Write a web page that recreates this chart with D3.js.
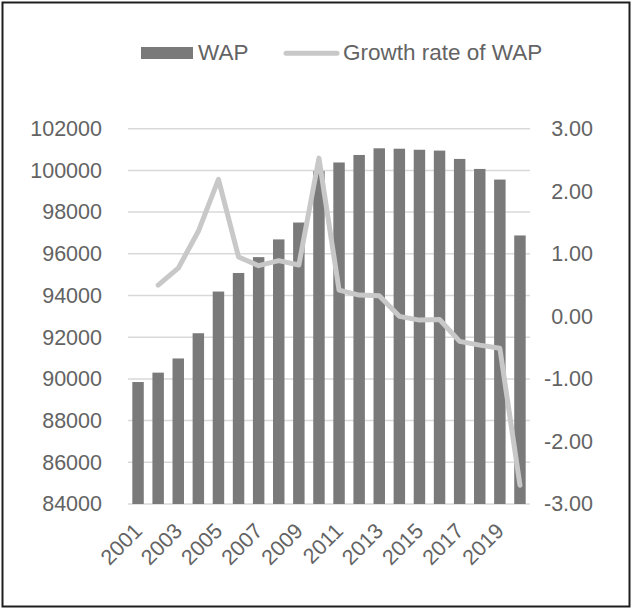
<!DOCTYPE html>
<html><head><meta charset="utf-8">
<script src="https://cdn.jsdelivr.net/npm/d3@7"></script>
<style>
html,body{margin:0;padding:0;background:#fff;}
text{font-family:"Liberation Sans",Arial,sans-serif;fill:#636363;}
</style></head>
<body><svg id="c" width="632" height="609"></svg>
<script>
const years = [2001,2002,2003,2004,2005,2006,2007,2008,2009,2010,2011,2012,2013,2014,2015,2016,2017,2018,2019,2020];
const wap = [89850,90300,90980,92190,94190,95080,95840,96690,97500,99970,100380,100740,101060,101040,100990,100950,100550,100070,99560,96880];
const growth = [null,0.50,0.77,1.36,2.19,0.95,0.81,0.89,0.82,2.53,0.42,0.34,0.33,0.00,-0.06,-0.05,-0.40,-0.46,-0.51,-2.70];
const leftTicks = [84000,86000,88000,90000,92000,94000,96000,98000,100000,102000];
const rightTicks = [-3,-2,-1,0,1,2,3];
const yearLabels = [2001,2003,2005,2007,2009,2011,2013,2015,2017,2019];

const svg = d3.select("#c");
svg.append("rect").attr("x",2.5).attr("y",2.5).attr("width",627).attr("height",604)
  .attr("fill","#fff").attr("stroke","#1e1e1e").attr("stroke-width",2);

const x0 = 128, x1 = 530, yTop = 128.7, yBot = 504;
const x = d3.scaleBand().domain(years).range([x0,x1]).paddingInner(0.43).paddingOuter(0.215);
const yL = d3.scaleLinear().domain([84000,102000]).range([yBot,yTop]);
const yR = d3.scaleLinear().domain([-3,3]).range([yBot,yTop]);

// gridlines
svg.append("g").selectAll("line").data(leftTicks).join("line")
  .attr("x1",x0).attr("x2",x1).attr("y1",d=>yL(d)).attr("y2",d=>yL(d))
  .attr("stroke","#d9d9d9").attr("stroke-width",1.5);

// bars
svg.append("g").selectAll("rect").data(years).join("rect")
  .attr("x",d=>x(d)).attr("width",x.bandwidth())
  .attr("y",(d,i)=>yL(wap[i])).attr("height",(d,i)=>yBot-yL(wap[i]))
  .attr("fill","#7a7a7a");

// line
const line = d3.line().defined(d=>d.v!==null)
  .x(d=>x(d.y)+x.bandwidth()/2).y(d=>yR(d.v));
svg.append("path").datum(years.map((y,i)=>({y:y,v:growth[i]})))
  .attr("d",line).attr("fill","none").attr("stroke","#c8c8c8")
  .attr("stroke-width",5).attr("stroke-linejoin","round").attr("stroke-linecap","round");

// left axis
const la = d3.axisLeft(yL).tickValues(leftTicks).tickSize(0).tickPadding(26).tickFormat(d3.format("d"));
const gL = svg.append("g").attr("transform",`translate(${x0},0)`).call(la);
gL.select(".domain").remove();
gL.selectAll("text").attr("font-size","21.5px").attr("fill","#636363").style("font-family","'Liberation Sans',Arial,sans-serif");

// right axis
const ra = d3.axisRight(yR).tickValues(rightTicks).tickSize(0).tickPadding(0).tickFormat(d=>d.toFixed(2));
const gR = svg.append("g").attr("transform",`translate(593,0)`).call(ra);
gR.select(".domain").remove();
gR.selectAll("text").attr("text-anchor","end").attr("font-size","21.5px").attr("fill","#636363").style("font-family","'Liberation Sans',Arial,sans-serif");

// x labels
svg.append("g").selectAll("text").data(yearLabels).join("text")
  .attr("transform",d=>`translate(${x(d)+x.bandwidth()/2},${527}) rotate(-45)`)
  .attr("text-anchor","end").attr("dy","0.35em").attr("font-size","21.5px").text(d=>d);

// legend
const lg = svg.append("g");
lg.append("rect").attr("x",141).attr("y",47).attr("width",52).attr("height",12).attr("fill","#7a7a7a");
lg.append("text").attr("x",198).attr("y",60).attr("font-size","22.5px").text("WAP");
lg.append("line").attr("x1",286).attr("x2",337).attr("y1",53.3).attr("y2",53.3)
  .attr("stroke","#c8c8c8").attr("stroke-width",5).attr("stroke-linecap","round");
lg.append("text").attr("x",343).attr("y",60).attr("font-size","22.5px").text("Growth rate of WAP");
</script></body></html>
